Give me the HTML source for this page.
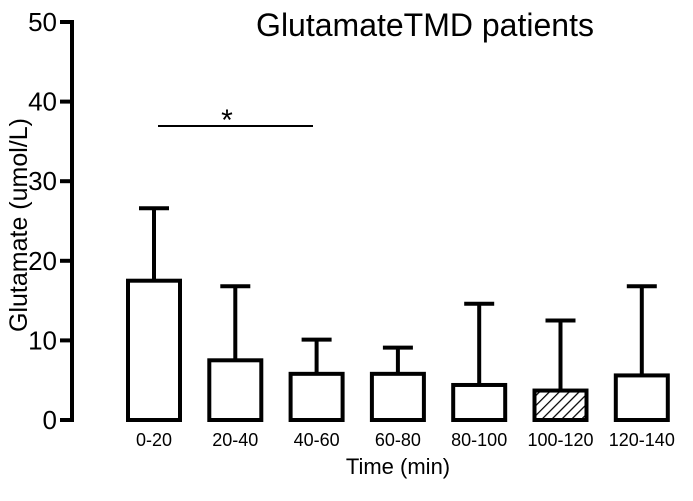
<!DOCTYPE html>
<html><head><meta charset="utf-8"><style>
body{margin:0;background:#fff}
svg{display:block;font-family:"Liberation Sans",Arial,sans-serif}
</style></head><body>
<svg id="c" width="693" height="501" viewBox="0 0 693 501">
<defs><pattern id="hatch" width="7" height="7" patternUnits="userSpaceOnUse" patternTransform="rotate(45)"><rect width="7" height="7" fill="#fff"/><line x1="0" y1="0" x2="0" y2="7" stroke="#000" stroke-width="2.5"/></pattern></defs>
<text x="425" y="36" font-size="32" text-anchor="middle">GlutamateTMD patients</text>
<text transform="translate(27,225) rotate(-90)" font-size="25" text-anchor="middle">Glutamate (umol/L)</text>
<text x="398" y="474" font-size="22" text-anchor="middle">Time (min)</text>
<g id="plot"></g>
</svg>
<script>
const categories=["0-20","20-40","40-60","60-80","80-100","100-120","120-140"];
const means=[17.5,7.5,5.8,5.8,4.4,3.7,5.6];
const errTops=[26.6,16.8,10.1,9.1,14.6,12.5,16.8];
const yTicks=[0,10,20,30,40,50];
const hatched=[false,false,false,false,false,true,false];
const NS="http://www.w3.org/2000/svg";
const g=document.getElementById('plot');
const y=v=>420-v*7.96;
const x=i=>154+i*81.3;
function mk(t,a){const e=document.createElementNS(NS,t);for(const k in a)e.setAttribute(k,a[k]);g.appendChild(e);return e;}
let ax=mk('line',{x1:72,x2:72,y1:y(50)-2,y2:y(0)+2,stroke:'#000','stroke-width':4});


yTicks.forEach(t=>{
 let l=mk('line',{x1:60,x2:72,y1:y(t),y2:y(t),stroke:'#000','stroke-width':4});
 
 
 let tx=mk('text',{x:57,y:y(t)+9,'font-size':26,'text-anchor':'end'});
 tx.textContent=t;
 
 
});
categories.forEach((c,i)=>{
 const cx=x(i);
 let e=mk('line',{x1:cx,x2:cx,y1:y(errTops[i]),y2:y(means[i]),stroke:'#000','stroke-width':4});
 
 
 let cap=mk('line',{x1:cx-15,x2:cx+15,y1:y(errTops[i]),y2:y(errTops[i]),stroke:'#000','stroke-width':4});
 
 
 let r=mk('rect',{x:cx-26,y:y(means[i]),width:52,height:y(0)-y(means[i]),fill:hatched[i]?'url(#hatch)':'#fff',stroke:'#000','stroke-width':4});
 
 
 let tx=mk('text',{x:cx,y:446,'font-size':18,'text-anchor':'middle'});
 tx.textContent=c;
 
 
});
let s=mk('line',{x1:158,x2:313,y1:126,y2:126,stroke:'#000','stroke-width':2});


let st=mk('text',{x:227,y:130,'font-size':30,'text-anchor':'middle'});
st.textContent='*';


</script>
</body></html>
